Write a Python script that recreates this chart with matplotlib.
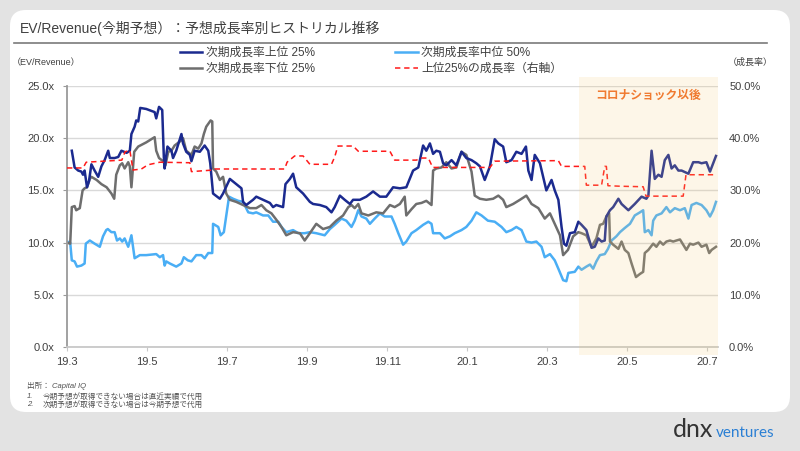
import matplotlib
matplotlib.use("Agg")
import matplotlib.pyplot as plt
from matplotlib.patches import FancyBboxPatch, Rectangle
from matplotlib.lines import Line2D

plt.rcParams['font.family'] = ['Liberation Sans', 'Noto Sans CJK JP']

# x = months since 2019-03, y = EV/Revenue multiple
top25 = [(0.12, 18.8), (0.19, 17.2), (0.28, 16.9), (0.36, 16.8), (0.40, 16.5), (0.44, 16.9), (0.50, 15.3),
         (0.55, 15.9), (0.61, 17.5), (0.69, 16.9), (0.78, 16.3), (0.86, 17.3), (0.94, 17.9), (1.03, 18.8),
         (1.07, 18.1), (1.19, 18.1), (1.28, 18.2), (1.36, 18.8), (1.49, 18.6), (1.57, 18.8), (1.61, 20.4),
         (1.69, 21.1), (1.73, 21.7), (1.78, 21.6), (1.83, 22.9), (1.98, 22.8), (2.19, 22.5), (2.23, 21.9),
         (2.30, 23.0), (2.38, 22.7), (2.42, 18.2), (2.44, 17.1), (2.51, 19.2), (2.61, 18.8), (2.65, 18.1),
         (2.73, 18.8), (2.86, 20.4), (2.90, 19.5), (2.98, 18.7), (3.07, 18.4), (3.11, 17.8), (3.19, 18.8),
         (3.32, 18.7), (3.44, 19.3), (3.53, 18.8), (3.58, 17.6), (3.65, 14.7), (3.82, 14.2), (3.90, 14.7),
         (4.07, 16.1), (4.23, 15.6), (4.36, 15.2), (4.40, 13.9), (4.48, 13.6), (4.65, 14.1), (4.73, 14.4),
         (4.90, 14.1), (5.07, 13.8), (5.15, 13.4), (5.23, 13.6), (5.40, 13.4), (5.46, 15.6), (5.57, 16.1),
         (5.65, 16.6), (5.73, 15.3), (5.90, 14.7), (6.07, 13.9), (6.15, 13.7), (6.32, 13.6), (6.48, 13.4),
         (6.61, 12.9), (6.69, 13.4), (6.82, 14.5), (6.94, 14.1), (7.07, 13.7), (7.15, 14.1), (7.32, 14.1),
         (7.48, 14.4), (7.65, 14.9), (7.82, 14.4), (7.98, 14.4), (8.15, 15.3), (8.32, 15.2), (8.48, 15.3),
         (8.65, 16.9), (8.78, 17.2), (8.90, 19.3), (8.98, 18.8), (9.07, 19.5), (9.15, 18.5), (9.23, 18.8),
         (9.32, 18.7), (9.40, 17.6), (9.48, 17.4), (9.61, 17.9), (9.73, 17.4), (9.86, 18.7), (9.98, 18.1),
         (10.11, 17.9), (10.23, 17.6), (10.32, 17.3), (10.44, 16.0), (10.57, 17.3), (10.69, 19.9),
         (10.78, 19.5), (10.90, 19.2), (10.98, 17.7), (11.11, 17.9), (11.23, 18.7), (11.36, 18.5),
         (11.47, 19.2), (11.53, 16.9), (11.61, 16.0), (11.69, 18.4), (11.82, 17.6), (11.90, 16.3),
         (11.98, 15.0), (12.11, 16.0), (12.19, 15.0), (12.28, 14.1), (12.36, 11.5), (12.42, 9.9),
         (12.48, 9.7), (12.57, 10.9), (12.69, 11.0), (12.78, 12.0), (12.86, 11.7), (12.98, 11.2),
         (13.11, 9.5), (13.19, 9.6), (13.28, 10.4), (13.36, 10.1), (13.44, 10.2), (13.48, 12.5),
         (13.57, 13.1), (13.65, 13.4), (13.78, 14.2), (13.86, 13.7), (14.03, 13.1), (14.19, 13.7),
         (14.36, 14.4), (14.48, 14.2), (14.53, 14.5), (14.61, 18.8), (14.69, 16.1), (14.78, 16.5),
         (14.86, 16.3), (14.94, 17.9), (15.03, 18.4), (15.11, 17.1), (15.19, 17.4), (15.28, 16.9),
         (15.36, 16.9), (15.53, 16.6), (15.65, 17.7), (15.78, 17.7), (15.86, 17.6), (15.98, 17.7),
         (16.07, 16.8), (16.15, 17.6), (16.22, 18.3)]

med50 = [(0.00, 10.1), (0.08, 10.0), (0.12, 8.3), (0.19, 8.2), (0.25, 7.7), (0.36, 7.8), (0.44, 8.0),
         (0.47, 9.9), (0.57, 10.2), (0.69, 9.9), (0.82, 9.6), (0.90, 10.6), (0.98, 11.2), (1.02, 11.3),
         (1.11, 11.0), (1.19, 11.0), (1.25, 10.2), (1.32, 10.4), (1.38, 10.1), (1.44, 10.4), (1.53, 9.6),
         (1.61, 10.7), (1.69, 8.5), (1.82, 8.8), (1.98, 8.8), (2.23, 8.9), (2.32, 8.6), (2.40, 8.8),
         (2.44, 7.8), (2.48, 8.2), (2.57, 8.0), (2.73, 7.7), (2.86, 8.0), (2.92, 8.6), (3.02, 8.3),
         (3.11, 8.2), (3.23, 8.8), (3.36, 8.8), (3.44, 8.5), (3.53, 9.0), (3.63, 9.0), (3.65, 11.8),
         (3.78, 11.5), (3.84, 10.7), (3.92, 11.0), (4.05, 14.4), (4.15, 14.2), (4.28, 14.0), (4.40, 13.9),
         (4.53, 12.9), (4.65, 12.8), (4.73, 12.9), (4.90, 12.6), (5.03, 12.6), (5.15, 12.0), (5.28, 12.0),
         (5.36, 11.5), (5.48, 11.0), (5.65, 11.2), (5.78, 10.9), (5.94, 10.9), (6.07, 11.0), (6.23, 10.9),
         (6.44, 10.7), (6.57, 11.3), (6.69, 11.7), (6.86, 12.3), (6.98, 12.1), (7.11, 11.5), (7.19, 12.1),
         (7.28, 13.1), (7.36, 12.5), (7.48, 12.3), (7.57, 11.8), (7.69, 12.3), (7.82, 12.8), (7.94, 12.5),
         (8.11, 12.5), (8.19, 11.8), (8.28, 10.9), (8.40, 9.8), (8.48, 10.1), (8.61, 10.9), (8.73, 11.2),
         (8.90, 11.7), (9.03, 12.0), (9.11, 11.8), (9.15, 10.9), (9.32, 10.9), (9.44, 10.4), (9.57, 10.6),
         (9.69, 10.9), (9.86, 11.2), (9.98, 11.5), (10.11, 12.1), (10.23, 12.9), (10.36, 12.6),
         (10.52, 12.1), (10.69, 12.0), (10.86, 11.5), (10.98, 11.0), (11.11, 11.2), (11.23, 11.5),
         (11.36, 11.2), (11.48, 10.1), (11.61, 10.0), (11.73, 10.1), (11.86, 9.6), (11.94, 8.6),
         (12.07, 8.9), (12.19, 8.3), (12.28, 7.5), (12.40, 6.4), (12.48, 6.3), (12.53, 7.1), (12.69, 7.2),
         (12.78, 7.7), (12.86, 7.4), (12.98, 7.7), (13.07, 7.9), (13.15, 7.5), (13.23, 8.2), (13.32, 8.8),
         (13.44, 8.9), (13.52, 9.4), (13.61, 10.2), (13.73, 10.6), (13.82, 11.0), (13.94, 11.4),
         (14.07, 11.8), (14.19, 12.6), (14.32, 12.9), (14.40, 13.1), (14.44, 11.0), (14.53, 11.2),
         (14.61, 10.7), (14.65, 12.1), (14.73, 12.6), (14.86, 12.8), (14.98, 13.4), (15.07, 12.9),
         (15.19, 13.3), (15.32, 13.1), (15.44, 13.3), (15.53, 12.3), (15.61, 13.6), (15.73, 13.8),
         (15.86, 13.6), (15.98, 13.1), (16.07, 12.5), (16.15, 13.1), (16.22, 13.9)]

low25 = [(0.00, 10.0), (0.08, 9.9), (0.12, 13.4), (0.19, 13.5), (0.23, 13.1), (0.32, 13.3), (0.39, 15.0),
         (0.44, 15.2), (0.50, 15.3), (0.57, 16.1), (0.61, 16.3), (0.74, 16.0), (0.86, 15.6), (0.99, 15.3),
         (1.11, 14.7), (1.18, 14.2), (1.23, 16.5), (1.32, 17.4), (1.38, 17.6), (1.44, 17.1), (1.53, 17.7),
         (1.57, 17.3), (1.61, 15.3), (1.68, 18.7), (1.78, 19.2), (1.98, 19.6), (2.19, 20.1), (2.23, 18.8),
         (2.30, 18.1), (2.40, 17.8), (2.46, 17.4), (2.53, 18.7), (2.61, 18.8), (2.69, 19.3), (2.86, 19.8),
         (2.90, 20.0), (2.98, 18.8), (3.11, 18.4), (3.19, 19.2), (3.28, 19.0), (3.36, 19.5), (3.42, 20.4),
         (3.48, 21.1), (3.59, 21.7), (3.63, 21.6), (3.65, 17.1), (3.73, 16.8), (3.82, 16.0), (3.90, 16.3),
         (3.98, 14.7), (4.07, 14.1), (4.23, 13.9), (4.40, 13.6), (4.57, 13.3), (4.73, 13.3), (4.86, 13.6),
         (4.98, 13.1), (5.11, 12.8), (5.23, 12.2), (5.36, 11.5), (5.48, 10.7), (5.65, 11.0), (5.82, 10.9),
         (5.94, 10.2), (6.07, 10.9), (6.23, 11.8), (6.40, 11.3), (6.57, 11.5), (6.73, 12.1), (6.90, 12.6),
         (7.03, 13.4), (7.11, 13.6), (7.19, 13.3), (7.28, 13.7), (7.36, 12.8), (7.53, 12.6), (7.73, 12.9),
         (7.90, 12.8), (8.07, 13.6), (8.19, 13.4), (8.32, 13.7), (8.44, 14.4), (8.48, 12.6), (8.61, 13.2),
         (8.73, 13.7), (8.86, 13.8), (8.98, 14.0), (9.11, 13.6), (9.15, 16.9), (9.23, 17.1), (9.36, 17.2),
         (9.48, 17.7), (9.61, 17.1), (9.73, 17.2), (9.86, 18.7), (9.98, 18.4), (10.11, 16.8), (10.19, 14.5),
         (10.32, 14.2), (10.48, 14.1), (10.65, 14.2), (10.78, 14.5), (10.90, 14.1), (10.98, 13.4),
         (11.15, 13.7), (11.32, 14.1), (11.48, 14.5), (11.61, 13.7), (11.78, 13.3), (11.94, 12.3),
         (12.07, 12.8), (12.19, 11.8), (12.32, 10.7), (12.40, 8.8), (12.52, 9.3), (12.65, 10.6),
         (12.78, 11.0), (12.86, 10.9), (12.98, 10.7), (13.11, 9.6), (13.23, 10.4), (13.32, 11.7),
         (13.40, 11.8), (13.48, 12.5), (13.55, 12.8), (13.57, 10.1), (13.65, 9.8), (13.78, 9.4),
         (13.86, 10.1), (13.94, 9.3), (14.03, 9.0), (14.11, 8.0), (14.22, 6.7), (14.32, 7.0), (14.40, 7.2),
         (14.44, 9.0), (14.53, 9.3), (14.65, 9.9), (14.73, 9.6), (14.82, 10.1), (14.90, 9.8), (14.98, 10.1),
         (15.07, 10.2), (15.15, 10.1), (15.23, 10.2), (15.32, 10.3), (15.40, 9.8), (15.48, 9.3),
         (15.57, 9.9), (15.65, 9.8), (15.78, 10.0), (15.86, 9.6), (15.98, 9.8), (16.05, 9.0), (16.11, 9.3),
         (16.22, 9.6)]

# growth rate of top 25% (%), right axis
growth = [(0.00, 34.3), (0.40, 34.3), (0.48, 35.4), (1.37, 35.8), (1.45, 37.4), (1.57, 37.7), (1.65, 33.9),
          (1.86, 34.1), (2.02, 34.9), (2.32, 35.4), (3.07, 35.3), (3.11, 33.6), (3.65, 33.9), (3.69, 34.1),
          (5.44, 34.1), (5.50, 35.4), (5.69, 36.6), (5.90, 36.6), (6.07, 35.0), (6.61, 35.0), (6.69, 36.4),
          (6.77, 38.5), (7.15, 38.5), (7.28, 37.5), (8.07, 37.5), (8.19, 35.8), (8.73, 35.8), (8.86, 36.2),
          (9.03, 36.2), (9.14, 34.4), (10.57, 34.4), (10.69, 35.6), (12.28, 35.7), (12.36, 34.6),
          (12.94, 34.6), (12.98, 31.0), (13.36, 31.0), (13.44, 34.6), (13.48, 34.6), (13.52, 30.9),
          (13.82, 30.8), (14.40, 30.7), (14.47, 28.9), (15.40, 28.9), (15.47, 33.0), (16.22, 33.0)]

tick_pos = [0, 2, 4, 6, 8, 10, 12, 14, 16]
tick_labels = ["19.3", "19.5", "19.7", "19.9", "19.11", "20.1", "20.3", "20.5", "20.7"]
corona_start = 12.8

fig = plt.figure(figsize=(8, 4.51), dpi=100, facecolor="#e3e3e3")
card = FancyBboxPatch((0.1, 0.39), 7.8, 4.02, boxstyle="round,pad=0,rounding_size=0.16",
                      transform=fig.dpi_scale_trans, facecolor="white", edgecolor="none", zorder=-5)
fig.patches.append(card)

fig.text(20/800, 1-28/451, "EV/Revenue(今期予想）：予想成長率別ヒストリカル推移",
         fontsize=10, color="#404040", va="center")
fig.add_artist(Line2D([14/800, 767/800], [1-43/451, 1-43/451], color="#7a7a7a", lw=1.2))

ax = fig.add_axes([67/800, 104/451, 651/800, 261/451])
ax2 = ax.twinx()
ax.patch.set_alpha(0)
ax2.patch.set_alpha(0)

def xs(d): return [p[0] for p in d]
def ys(d): return [p[1] for p in d]

l_med, = ax.plot(xs(med50), ys(med50), color="#4aaef5", lw=1.8)
l_low, = ax.plot(xs(low25), ys(low25), color="#6e6e6e", lw=1.8)
l_top, = ax.plot(xs(top25), ys(top25), color="#1b2a8f", lw=1.8)
l_gr, = ax2.plot(xs(growth), ys(growth), color="#ff1a1a", lw=1.1, dashes=(3.5, 2.5))

ax.set_xlim(0, 16.27)
ax.set_ylim(0, 25)
ax2.set_ylim(0, 50)
ax.set_yticks([0, 5, 10, 15, 20, 25])
ax.set_yticklabels([f"{v:.1f}x" for v in [0, 5, 10, 15, 20, 25]])
ax2.set_yticks([0, 10, 20, 30, 40, 50])
ax2.set_yticklabels([f"{v:.1f}%" for v in [0, 10, 20, 30, 40, 50]])
ax.set_xticks(tick_pos)
ax.set_xticklabels(tick_labels)

ax.grid(axis="y", color="#d9d9d9", lw=1.0)
ax.set_axisbelow(True)
for s in ["top", "right"]:
    ax.spines[s].set_visible(False)
for s in ax2.spines.values():
    s.set_visible(False)
ax.spines["left"].set_color("#9a9a9a")
ax.spines["bottom"].set_color("#c8c8c8")
ax.spines["left"].set_linewidth(1.3)
ax.spines["bottom"].set_linewidth(1.3)
ax.tick_params(axis="y", length=3, color="#9a9a9a", labelsize=8, labelcolor="#404040", pad=6)
ax.tick_params(axis="x", length=3, color="#c8c8c8", labelsize=8, labelcolor="#404040", pad=4)
ax2.tick_params(axis="y", length=0, labelsize=8, labelcolor="#404040", pad=8)

shade = Rectangle((corona_start, -0.031), 16.27 - corona_start, 1.065, transform=ax.get_xaxis_transform(),
                  facecolor="#f5cd78", alpha=0.17, edgecolor="none", clip_on=False, zorder=10)
ax2.add_patch(shade)
fig.text(648/800, 1-96/451, "コロナショック以後", color="#f07a30", fontsize=8.5,
         fontweight="bold", ha="center", va="center")

fig.text(12/800, 1-63/451, "（EV/Revenue）", fontsize=6.5, color="#404040", va="center")
fig.text(728/800, 1-62/451, "（成長率）", fontsize=6.5, color="#404040", va="center")

fig.legend([l_top, l_low, l_med, l_gr],
           ["次期成長率上位 25%", "次期成長率下位 25%", "次期成長率中位 50%", "上位25%の成長率（右軸）"],
           ncol=2, loc="upper left", bbox_to_anchor=(180/800, 1-47/451), frameon=False,
           fontsize=8.5, handlelength=1.9, handletextpad=0.3, columnspacing=6.8,
           labelspacing=0.35, labelcolor="#404040", borderpad=0, borderaxespad=0)

fig.text(27/800, 1-386/451, "出所： Capital IQ", fontsize=5.5, style="italic", color="#505050", va="center")
fig.text(27/800, 1-397/451, "1.", fontsize=5.5, style="italic", color="#505050", va="center")
fig.text(43/800, 1-397/451, "今期予想が取得できない場合は直近実績で代用", fontsize=5.5, style="italic",
         color="#505050", va="center")
fig.text(27/800, 1-405/451, "2.", fontsize=5.5, style="italic", color="#505050", va="center")
fig.text(43/800, 1-405/451, "次期予想が取得できない場合は今期予想で代用", fontsize=5.5, style="italic",
         color="#505050", va="center")

fig.text(673/800, 1-437/451, "dnx", fontsize=18, color="#333333", family="Lato", va="baseline")
fig.text(716/800, 1-437/451, "ventures", fontsize=11, color="#2a7fd4", family="Lato", va="baseline")

fig.savefig("out.png", dpi=100, facecolor=fig.get_facecolor())
